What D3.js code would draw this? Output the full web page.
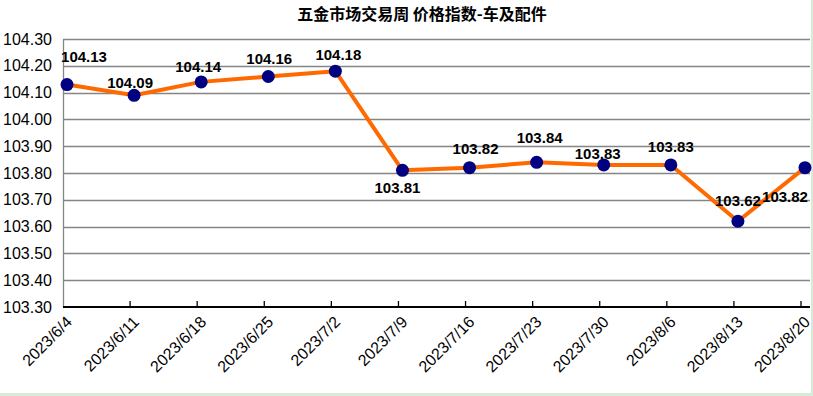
<!DOCTYPE html>
<html>
<head>
<meta charset="utf-8">
<script src="https://cdn.jsdelivr.net/npm/d3@7"></script>
<style>
  body { margin: 0; background: #fff; }
  svg { display: block; }
</style>
</head>
<body>
<div id="chart"></div>
<script>
const title = "五金市场交易周 价格指数-车及配件";
const dates = ["2023/6/4", "2023/6/11", "2023/6/18", "2023/6/25", "2023/7/2", "2023/7/9",
  "2023/7/16", "2023/7/23", "2023/7/30", "2023/8/6", "2023/8/13", "2023/8/20"];
const values = [104.13, 104.09, 104.14, 104.16, 104.18, 103.81,
  103.82, 103.84, 103.83, 103.83, 103.62, 103.82];
const yTicks = [103.3, 103.4, 103.5, 103.6, 103.7, 103.8, 103.9, 104.0, 104.1, 104.2, 104.3];

// label placement relative to each point (dx, dy of the label centre)
const labelShift = [[17, -28], [-4, -13], [-3, -15], [1, -18], [3, -17], [-5, 17],
  [6, -19], [3, -25], [-6, -11], [0, -18], [0, -21], [-20, 29]];

const width = 813, height = 396;
const margin = { top: 39, right: 3, bottom: 89, left: 63 };
const plotRight = width - margin.right;
const plotBottom = height - margin.bottom;

const svg = d3.select("#chart").append("svg")
  .attr("width", width)
  .attr("height", height);

// sheet edge showing around the chart
svg.append("rect").attr("x", 0).attr("y", 0).attr("width", width).attr("height", height).attr("fill", "#d7ecd7");
svg.append("rect").attr("x", 0).attr("y", 0).attr("width", 811).attr("height", 393).attr("fill", "#fff");

const x = d3.scalePoint()
  .domain(dates)
  .range([margin.left + 4, plotRight - 5]);

const y = d3.scaleLinear()
  .domain([103.3, 104.3])
  .range([plotBottom, margin.top]);

// gridlines
svg.append("g")
  .selectAll("line")
  .data(yTicks.slice(1))
  .enter()
  .append("line")
  .attr("x1", margin.left)
  .attr("x2", plotRight)
  .attr("y1", d => Math.round(y(d)) + 0.5)
  .attr("y2", d => Math.round(y(d)) + 0.5)
  .attr("stroke", "#858585")
  .attr("stroke-width", 1.3);

// y axis
const yAxis = svg.append("g")
  .attr("transform", `translate(${margin.left},0)`)
  .call(d3.axisLeft(y).tickValues(yTicks).tickFormat(d3.format(".2f")).tickSize(0).tickPadding(11));
yAxis.select(".domain").attr("stroke", "#858585").attr("stroke-width", 1.3);
yAxis.selectAll("text")
  .attr("font-family", "Liberation Sans, Arial, sans-serif")
  .attr("font-size", "16px")
  .attr("fill", "#000");

// x axis
const xAxis = svg.append("g")
  .attr("transform", `translate(0,${Math.round(plotBottom)})`)
  .call(d3.axisBottom(x).tickSize(0).tickFormat(""));
xAxis.select(".domain")
  .attr("d", `M${margin.left},0H${plotRight}`)
  .attr("stroke", "#000")
  .attr("stroke-width", 2);

svg.append("g")
  .selectAll("line")
  .data(dates.slice(1))
  .enter()
  .append("line")
  .attr("x1", d => x(d) - 4)
  .attr("x2", d => x(d) - 4)
  .attr("y1", plotBottom)
  .attr("y2", plotBottom - 6)
  .attr("stroke", "#000")
  .attr("stroke-width", 1.3);

svg.append("g")
  .selectAll("text")
  .data(dates)
  .enter()
  .append("text")
  .attr("transform", d => `translate(${x(d) + 6},${plotBottom + 16}) rotate(-45)`)
  .attr("text-anchor", "end")
  .attr("font-family", "Liberation Sans, Arial, sans-serif")
  .attr("font-size", "16px")
  .attr("fill", "#000")
  .text(d => d);

// line
const line = d3.line()
  .x((d, i) => x(dates[i]))
  .y(d => y(d));

svg.append("path")
  .datum(values)
  .attr("d", line)
  .attr("fill", "none")
  .attr("stroke", "#ff6a00")
  .attr("stroke-width", 4)
  .attr("stroke-linejoin", "round");

svg.append("g")
  .selectAll("circle")
  .data(values)
  .enter()
  .append("circle")
  .attr("cx", (d, i) => x(dates[i]))
  .attr("cy", d => y(d))
  .attr("r", 6.5)
  .attr("fill", "#000080");

// data labels
svg.append("g")
  .selectAll("text")
  .data(values)
  .enter()
  .append("text")
  .attr("x", (d, i) => x(dates[i]) + labelShift[i][0])
  .attr("y", (d, i) => y(d) + labelShift[i][1])
  .attr("dy", "0.36em")
  .attr("text-anchor", "middle")
  .attr("font-family", "Liberation Sans, Arial, sans-serif")
  .attr("font-size", "15px")
  .attr("font-weight", "bold")
  .attr("fill", "#000")
  .text(d => d.toFixed(2));

// title
svg.append("text")
  .attr("x", 422)
  .attr("y", 20)
  .attr("text-anchor", "middle")
  .attr("font-family", "Noto Sans CJK SC, sans-serif")
  .attr("font-size", "16px")
  .attr("font-weight", "bold")
  .attr("fill", "#000")
  .text(title);
</script>
</body>
</html>
